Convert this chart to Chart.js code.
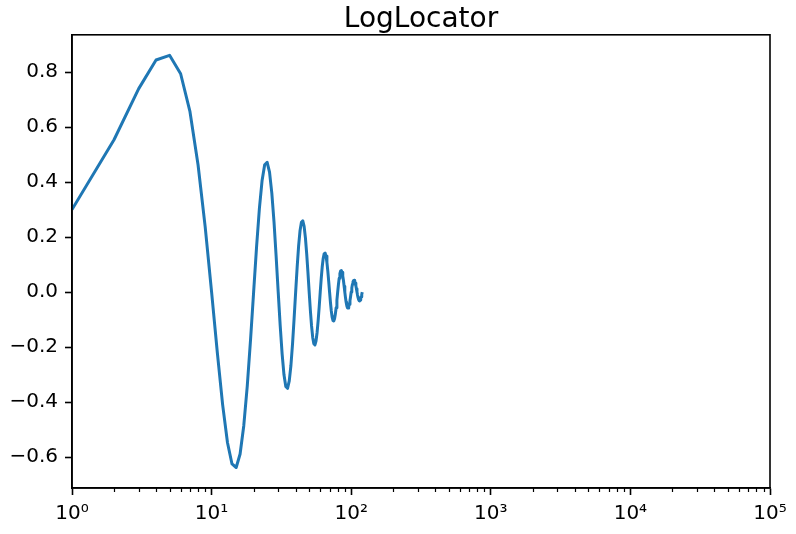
<!DOCTYPE html>
<html>
<head>
<meta charset="utf-8">
<script src="https://cdn.jsdelivr.net/npm/chart.js@4"></script>
<style>
  html, body { margin: 0; padding: 0; background: #fff; }
  canvas { display: block; }
</style>
</head>
<body>
<canvas id="c" width="796" height="534"></canvas>
<script>
const titleText = 'LogLocator';

const xValues = [
  1,2,3,4,5,6,7,8,9,10,
  11,12,13,14,15,16,17,18,19,20,
  21,22,23,24,25,26,27,28,29,30,
  31,32,33,34,35,36,37,38,39,40,
  41,42,43,44,45,46,47,48,49,50,
  51,52,53,54,55,56,57,58,59,60,
  61,62,63,64,65,66,67,68,69,70,
  71,72,73,74,75,76,77,78,79,80,
  81,82,83,84,85,86,87,88,89,90,
  91,92,93,94,95,96,97,98,99,100,
  101,102,103,104,105,106,107,108,109,110,
  111,112,113,114,115,116,117,118,119,120
];

const yValues = [
  0.300,0.554,0.739,0.844,0.861,0.794,0.656,0.462,0.236,0,
  -0.222,-0.410,-0.548,-0.625,-0.638,-0.589,-0.486,-0.343,-0.175,0,
  0.165,0.304,0.406,0.463,0.472,0.436,0.360,0.254,0.129,0,
  -0.122,-0.225,-0.301,-0.343,-0.350,-0.323,-0.267,-0.188,-0.096,0,
  0.090,0.167,0.223,0.254,0.259,0.239,0.197,0.139,0.071,0,
  -0.067,-0.123,-0.165,-0.188,-0.192,-0.177,-0.146,-0.103,-0.053,0,
  0.050,0.092,0.122,0.139,0.142,0.131,0.108,0.076,0.039,0,
  -0.037,-0.068,-0.091,-0.103,-0.105,-0.097,-0.080,-0.057,-0.029,0,
  0.027,0.050,0.067,0.077,0.078,0.072,0.059,0.042,0.021,0,
  -0.020,-0.037,-0.050,-0.057,-0.058,-0.053,-0.044,-0.031,-0.016,0,
  0.015,0.028,0.037,0.042,0.043,0.040,0.033,0.023,0.012,0,
  -0.011,-0.020,-0.027,-0.031,-0.032,-0.029,-0.024,-0.017,-0.009,0
];

const xTickValues = [1, 10, 100, 1000, 10000, 100000];
const xTickLabels = ['10\u2070', '10\u00B9', '10\u00B2', '10\u00B3', '10\u2074', '10\u2075'];
const xMinorMultipliers = [2, 3, 4, 5, 6, 7, 8, 9];
const yTickValues = [-0.6, -0.4, -0.2, 0.0, 0.2, 0.4, 0.6, 0.8];
const yTickLabels = ['\u22120.6', '\u22120.4', '\u22120.2', '0.0', '0.2', '0.4', '0.6', '0.8'];

const FONT = "'DejaVu Sans', 'Liberation Sans', sans-serif";
const INK = '#000000';

const framePlugin = {
  id: 'frameAndMinor',
  afterDraw(chart) {
    const ctx = chart.ctx;
    const a = chart.chartArea;
    const xs = chart.scales.x;
    ctx.save();
    ctx.strokeStyle = INK;
    ctx.lineWidth = 1.2;
    ctx.beginPath();
    for (let i = 0; i < xTickValues.length - 1; i++) {
      for (const m of xMinorMultipliers) {
        const px = Math.round(xs.getPixelForValue(xTickValues[i] * m)) + 0.5;
        ctx.moveTo(px, a.bottom);
        ctx.lineTo(px, a.bottom + 4);
      }
    }
    ctx.stroke();
    ctx.lineWidth = 1.6;
    ctx.strokeRect(a.left, a.top, a.right - a.left, a.bottom - a.top);
    ctx.restore();
  }
};

new Chart(document.getElementById('c'), {
  type: 'line',
  data: {
    datasets: [{
      data: xValues.map((x, i) => ({ x: x, y: yValues[i] })),
      borderColor: '#1f77b4',
      backgroundColor: '#1f77b4',
      borderWidth: 3,
      pointRadius: 0,
      pointHoverRadius: 0,
      tension: 0,
      fill: false,
      borderJoinStyle: 'round'
    }]
  },
  options: {
    responsive: false,
    animation: false,
    events: [],
    layout: { padding: { left: 0, right: 26, top: 0, bottom: 0 } },
    plugins: {
      legend: { display: false },
      tooltip: { enabled: false },
      title: {
        display: true,
        fullSize: false,
        text: titleText,
        color: INK,
        font: { family: FONT, size: 28, weight: 'normal', lineHeight: 1.1 },
        padding: { top: 4, bottom: 0 }
      }
    },
    scales: {
      x: {
        type: 'logarithmic',
        position: 'bottom',
        min: 1,
        max: 100000,
        border: { display: true, color: INK, width: 1.6 },
        grid: { display: true, drawOnChartArea: false, drawTicks: true, tickLength: 7, tickWidth: 1.6, tickColor: INK },
        afterBuildTicks(scale) {
          scale.ticks = xTickValues.map(v => ({ value: v }));
        },
        afterFit(scale) {
          scale.height = 46;
          scale.paddingLeft = 0;
          scale.paddingRight = 0;
        },
        ticks: {
          autoSkip: false,
          maxRotation: 0,
          minRotation: 0,
          padding: 7,
          color: INK,
          font: { family: FONT, size: 20 },
          callback(value) {
            const i = xTickValues.indexOf(value);
            return i >= 0 ? xTickLabels[i] : '';
          }
        }
      },
      y: {
        type: 'linear',
        position: 'left',
        min: -0.7125,
        max: 0.9356,
        border: { display: true, color: INK, width: 1.6 },
        grid: { display: true, drawOnChartArea: false, drawTicks: true, tickLength: 7, tickWidth: 1.6, tickColor: INK },
        afterBuildTicks(scale) {
          scale.ticks = yTickValues.map(v => ({ value: v }));
        },
        afterFit(scale) {
          scale.width = 72;
          scale.paddingTop = 0;
          scale.paddingBottom = 0;
        },
        ticks: {
          autoSkip: false,
          padding: 7,
          color: INK,
          font: { family: FONT, size: 20 },
          callback(value) {
            const i = yTickValues.findIndex(v => Math.abs(v - value) < 1e-9);
            return i >= 0 ? yTickLabels[i] : '';
          }
        }
      }
    }
  },
  plugins: [framePlugin]
});
</script>
</body>
</html>
